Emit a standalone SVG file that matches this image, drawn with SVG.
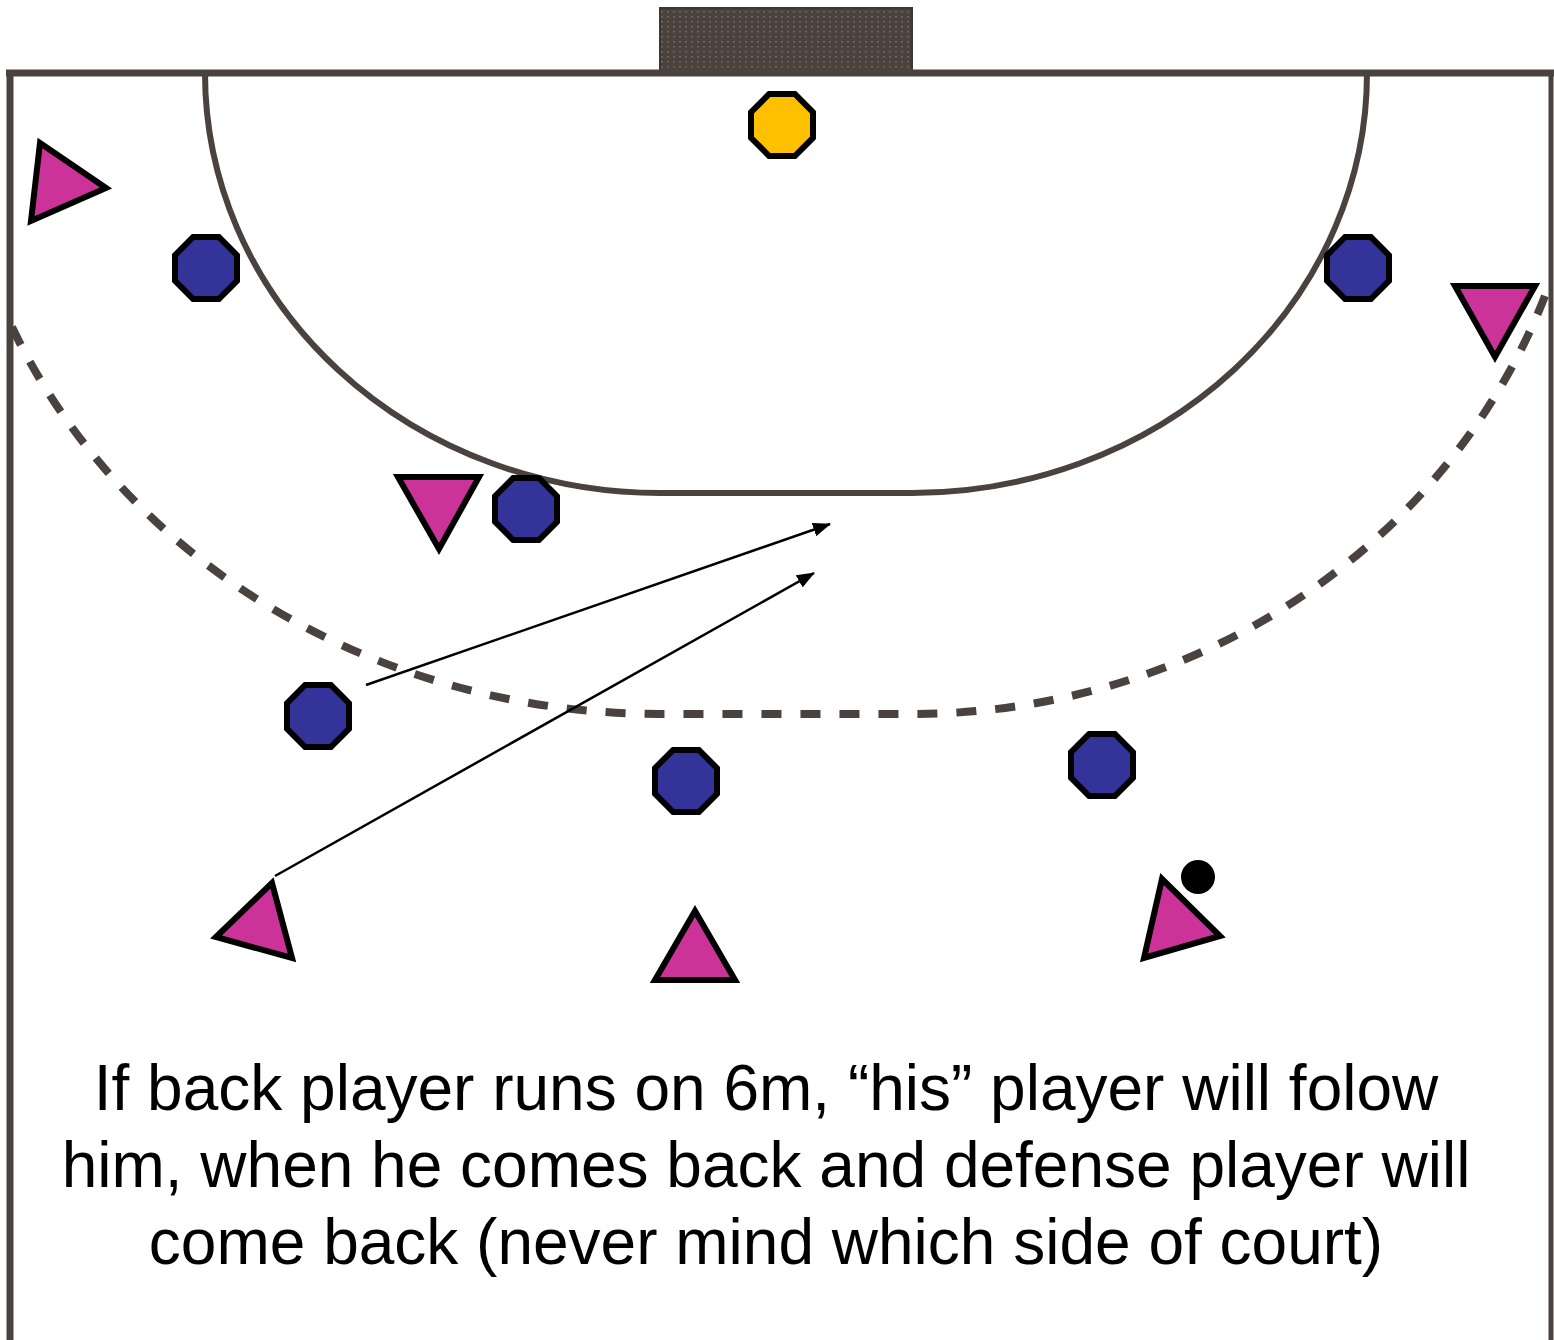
<svg xmlns="http://www.w3.org/2000/svg" width="1554" height="1340" viewBox="0 0 1554 1340">
  <style>
    .court { fill: none; stroke: #4a423e; stroke-linecap: butt; }
    .line6 { fill: none; stroke: #4a423e; stroke-width: 6; }
    .line9 { fill: none; stroke: #4a423e; stroke-width: 8; stroke-dasharray: 20 19; }
    .def { fill: #333399; stroke: #000; stroke-width: 6; stroke-linejoin: miter; }
    .keeper { fill: #FFC000; stroke: #000; stroke-width: 6; stroke-linejoin: miter; }
    .att { fill: #CC3399; stroke: #000; stroke-width: 6; stroke-linejoin: miter; }
    .move { stroke: #000; stroke-width: 2.5; fill: none; marker-end: url(#head); }
    .caption { font-family: "Liberation Sans", Arial, sans-serif; font-size: 64px; fill: #000; text-anchor: middle; }
  </style>
  <defs>
    <polygon id="oct" points="31,12.84 12.84,31 -12.84,31 -31,12.84 -31,-12.84 -12.84,-31 12.84,-31 31,-12.84"/>
    <pattern id="net" width="6" height="5" patternUnits="userSpaceOnUse">
      <rect width="6" height="5" fill="#4b423d"/>
      <rect x="1" y="1" width="2" height="1.5" fill="#8c827b" opacity="0.55"/>
    </pattern>
    <marker id="head" markerUnits="userSpaceOnUse" markerWidth="18" markerHeight="14" refX="17" refY="7" orient="auto">
      <path d="M0,0 L18,7 L0,14 Z" fill="#000"/>
    </marker>
  </defs>

  <rect width="1554" height="1340" fill="#fff"/>

  <!-- court markings -->
  <g id="court">
    <rect id="goal" x="660" y="8" width="252" height="66" fill="url(#net)" stroke="#3e3632" stroke-width="2"/>
    <line class="court" x1="6" y1="73" x2="1554" y2="73" stroke-width="7"/>
    <line class="court" x1="10" y1="70" x2="10" y2="1340" stroke-width="7"/>
    <line class="court" x1="1551" y1="70" x2="1551" y2="1340" stroke-width="5"/>
    <path id="goal-area" class="line6" d="M205,73 A455 420 0 0 0 660,493 L912,493 A455 420 0 0 0 1367,73"/>
    <path id="free-throw" class="line9" d="M12,327 A706 641 0 0 0 660,714 L912,714 A675 641 0 0 0 1548,288"/>
  </g>

  <!-- movement arrows -->
  <g id="connectors">
    <line class="move" x1="366" y1="685" x2="830" y2="524"/>
    <line class="move" x1="275" y1="876" x2="814" y2="573"/>
  </g>

  <!-- goalkeeper -->
  <g id="goalkeeper"><use href="#oct" class="keeper" x="782" y="125"/></g>

  <!-- defenders -->
  <g id="def-left-wing"><use href="#oct" class="def" x="206" y="268"/></g>
  <g id="def-right-wing"><use href="#oct" class="def" x="1358" y="268"/></g>
  <g id="def-pivot"><use href="#oct" class="def" x="526" y="509"/></g>
  <g id="def-left-back"><use href="#oct" class="def" x="318" y="716"/></g>
  <g id="def-centre"><use href="#oct" class="def" x="686" y="781"/></g>
  <g id="def-right-back"><use href="#oct" class="def" x="1102" y="765"/></g>

  <!-- attackers -->
  <g id="att-left-wing"><polygon class="att" points="40,143 106,188 31,221"/></g>
  <g id="att-right-wing"><polygon class="att" points="1455,286 1535,286 1495,357"/></g>
  <g id="att-pivot"><polygon class="att" points="398,477 479,477 439,549"/></g>
  <g id="att-left-back"><polygon class="att" points="216,937 272,883 292,958"/></g>
  <g id="att-centre"><polygon class="att" points="695,911 655,980 735,980"/></g>
  <g id="att-right-back"><polygon class="att" points="1162,879 1220,936 1144,958"/></g>

  <!-- ball -->
  <g id="ball"><circle cx="1198" cy="877" r="17" fill="#000"/></g>

  <!-- caption -->
  <g id="caption">
    <text class="caption" x="766" y="1110">If back player runs on 6m, “his” player will folow</text>
    <text class="caption" x="766" y="1187">him, when he comes back and defense player will</text>
    <text class="caption" x="766" y="1264">come back (never mind which side of court)</text>
  </g>
</svg>
